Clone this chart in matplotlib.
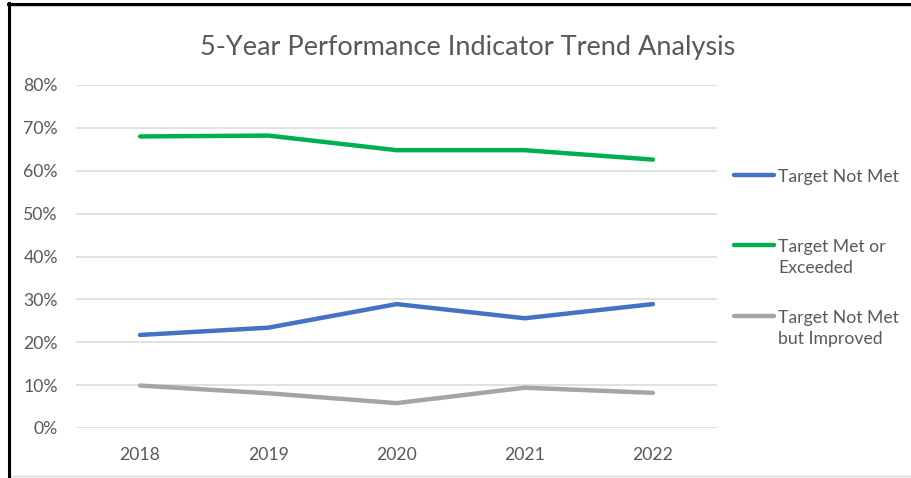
import matplotlib.pyplot as plt
from matplotlib.lines import Line2D
from matplotlib.patches import Rectangle
from matplotlib.ticker import PercentFormatter

# data
years = ['2018', '2019', '2020', '2021', '2022']
not_met = [21.7, 23.4, 28.9, 25.6, 28.9]
met_or_exceeded = [68.0, 68.2, 64.8, 64.8, 62.6]
not_met_improved = [9.9, 8.1, 5.8, 9.4, 8.2]

labels = ['Target Not Met', 'Target Met or\nExceeded', 'Target Not Met\nbut Improved']
colors = ['#4472C4', '#00B050', '#A5A5A5']
series = [not_met, met_or_exceeded, not_met_improved]

plt.rcParams['font.family'] = ['Lato', 'DejaVu Sans']
text_gray = '#595959'

fig = plt.figure(figsize=(9.11, 4.78), dpi=100)
ax = fig.add_axes([76 / 911, 1 - 428 / 478, (717 - 76) / 911, (428 - 85) / 478])

x = range(len(years))
for vals, c in zip(series, colors):
    ax.plot(x, vals, color=c, lw=3.2, solid_capstyle='round', solid_joinstyle='round', zorder=3)

ax.set_xlim(-0.5, len(years) - 0.5)
ax.set_ylim(0, 80)
ax.set_yticks(range(0, 81, 10))
ax.yaxis.set_major_formatter(PercentFormatter(decimals=0))
ax.set_xticks(list(x))
ax.set_xticklabels(years)
ax.grid(axis='y', color='#D9D9D9', lw=1.1)
ax.set_axisbelow(True)
for s in ax.spines.values():
    s.set_visible(False)
ax.tick_params(axis='both', length=0, labelsize=12.7, labelcolor=text_gray)
ax.tick_params(axis='y', pad=13)
ax.tick_params(axis='x', pad=14)

fig.text(468 / 911, 1 - 47 / 478, '5-Year Performance Indicator Trend Analysis',
         ha='center', va='center', fontsize=19.5, color=text_gray)

# legend drawn by hand so the line sits beside the first text line
legend_y = [175, 245, 316]
for lab, c, yy in zip(labels, colors, legend_y):
    fy = 1 - yy / 478
    fig.add_artist(Line2D([734 / 911, 774 / 911], [fy, fy], color=c, lw=3.2, solid_capstyle='round'))
    fig.text(778 / 911, fy + 0.0135, lab, ha='left', va='top', fontsize=12.7,
             color=text_gray, linespacing=1.45)

# screenshot frame
fig.add_artist(Rectangle((10 / 911, 0.004), 1.0, 1 - 6 / 478 - 0.004, transform=fig.transFigure,
                         fill=False, ec='#D9D9D9', lw=1))
fig.add_artist(Line2D([9 / 911, 9 / 911], [0, 1 - 3 / 478], color='black', lw=2.2))
fig.add_artist(Line2D([8 / 911, 1], [1 - 4 / 478, 1 - 4 / 478], color='black', lw=2.2))

fig.savefig('out.png', dpi=100)
